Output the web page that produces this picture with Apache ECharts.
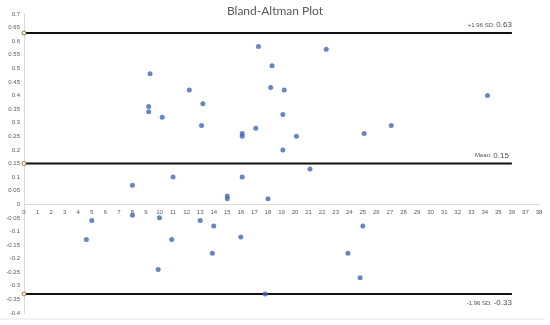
<!DOCTYPE html>
<html>
<head>
<meta charset="utf-8">
<script src="https://cdn.jsdelivr.net/npm/echarts@6/dist/echarts.min.js"></script>
<style>
  html, body { margin: 0; padding: 0; background: #fff; }
  #chart { width: 550px; height: 325px; }
</style>
</head>
<body>
<div id="chart"></div>
<script>
// 均值 (x)
const meanValues = [9.3, 9.2, 9.2, 10.2, 12.2, 13.2, 13.1, 16.1, 16.1, 17.1, 17.3, 18.3, 18.2,
  22.3, 19.2, 19.1, 20.1, 19.1, 25.1, 27.1, 34.2, 21.1,
  8.0, 11.0, 15.0, 15.0, 16.1, 18.0, 5.0, 4.6, 8.0, 10.0, 9.9, 10.9, 13.0, 14.0, 13.9, 16.0, 17.8,
  25.0, 23.9, 24.8]
// 差值 (y)
const diffValues = [0.48, 0.36, 0.34, 0.32, 0.42, 0.37, 0.29, 0.26, 0.25, 0.28, 0.58, 0.51, 0.43,
  0.57, 0.42, 0.33, 0.25, 0.20, 0.26, 0.29, 0.40, 0.13,
  0.07, 0.10, 0.03, 0.02, 0.10, 0.02, -0.06, -0.13, -0.04, -0.05, -0.24, -0.13, -0.06, -0.08, -0.18, -0.12, -0.33,
  -0.08, -0.18, -0.27]
// 参考线
const lineNames = ['+1.96 SD: ', 'Mean: ', '-1.96 SD: ']
const lineValues = [0.63, 0.15, -0.33]
const lineEnd = 36
const yMin = -0.4
const yMax = 0.7

const chart = echarts.init(document.getElementById('chart'))

const points = meanValues.map((m, i) => [m, diffValues[i]])

const refLines = lineValues.map((v) => ({
  type: 'line',
  data: [[0, v], { value: [lineEnd, v], symbol: 'none' }],
  symbol: 'circle',
  symbolSize: 4,
  itemStyle: { color: '#fff', borderColor: '#9c7a2a', borderWidth: 1 },
  lineStyle: { color: '#111', width: 2 },
  z: 3,
  silent: true
}))

// 线的文字标注
const refLabels = {
  type: 'scatter',
  symbolSize: 0,
  silent: true,
  data: lineValues.map((v, i) => ({
    value: [lineEnd, v],
    label: {
      show: true,
      position: [i === 1 ? -3 : 0, i === 2 ? 5 : -4],
      align: 'right',
      verticalAlign: i === 2 ? 'top' : 'bottom',
      formatter: '{a|' + lineNames[i] + '}{b|' + v.toFixed(2) + '}',
      rich: {
        a: { fontSize: 6, color: '#222', fontFamily: 'Liberation Sans' },
        b: { fontSize: 8, color: '#222', fontFamily: 'Liberation Sans' }
      }
    }
  }))
}

const gridTop = 14
const gridBottom = 12
const gridH = 325 - gridTop - gridBottom
// x轴放到 y=0 的位置
const xOffset = -gridH * (0 - yMin) / (yMax - yMin)

const option = {
  animation: false,
  title: {
    text: 'Bland-Altman Plot',
    left: 'center',
    top: 0,
    textStyle: { fontSize: 12, fontWeight: 'normal', color: '#595959', fontFamily: 'Lato' }
  },
  grid: { left: 24, right: 11, top: gridTop, bottom: gridBottom },
  xAxis: {
    type: 'value',
    min: 0,
    max: 38,
    interval: 1,
    offset: xOffset,
    axisLine: { onZero: false, lineStyle: { color: '#d9d9d9', width: 1 } },
    axisTick: { show: false },
    splitLine: { show: false },
    axisLabel: { fontSize: 6, color: '#595959', margin: 5, fontFamily: 'Liberation Sans' }
  },
  yAxis: {
    type: 'value',
    min: yMin,
    max: yMax,
    interval: 0.05,
    axisLine: { show: true, onZero: false, lineStyle: { color: '#d9d9d9', width: 1 } },
    axisTick: { show: false },
    splitLine: { show: false },
    axisLabel: {
      fontSize: 6, color: '#595959', margin: 4, fontFamily: 'Liberation Sans',
      formatter: (v) => String(+v.toFixed(2))
    }
  },
  graphic: [{
    type: 'line',
    shape: { x1: 0, y1: 319, x2: 545, y2: 319 },
    style: { stroke: '#e6e6e6', lineWidth: 1 },
    silent: true
  }],
  series: [
    {
      type: 'scatter',
      data: points,
      symbolSize: 5,
      itemStyle: { color: '#3f67b5' },
      z: 4
    },
    ...refLines,
    refLabels
  ]
}

chart.setOption(option)
</script>
</body>
</html>
